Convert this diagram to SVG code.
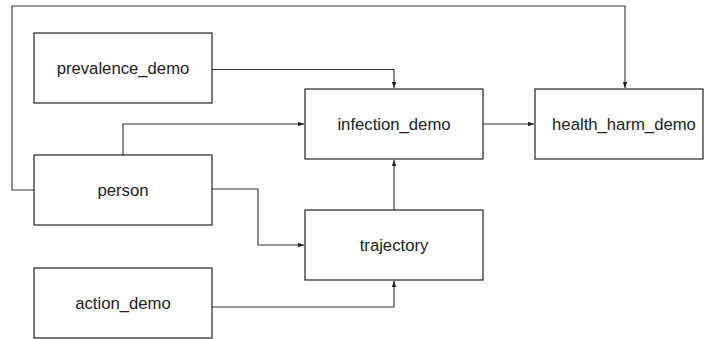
<svg xmlns="http://www.w3.org/2000/svg" width="704" height="339" viewBox="0 0 704 339">
<style>
.box{fill:#fff;stroke:#222;stroke-width:1.2}
.lbl{font-family:"Liberation Sans",Arial,sans-serif;font-size:16.7px;fill:#222;text-anchor:middle}
.edge{fill:none;stroke:#333;stroke-width:1.1}
</style>
<defs>
<marker id="arr" viewBox="0 0 6 6" refX="6" refY="3" markerWidth="6" markerHeight="6" markerUnits="userSpaceOnUse" orient="auto">
<path d="M0,0.8 L6,3 L0,5.2 Z" fill="#222"/>
</marker>
</defs>
<rect width="704" height="339" fill="#fff"/>
<g id="connectors">
<path class="edge" d="M34,190 H12 V6 H625 V88" marker-end="url(#arr)"/>
<path class="edge" d="M212,69.5 H394 V88" marker-end="url(#arr)"/>
<path class="edge" d="M123,155 V124 H304" marker-end="url(#arr)"/>
<path class="edge" d="M212,189 H258 V245 H304" marker-end="url(#arr)"/>
<path class="edge" d="M212,307 H394 V281" marker-end="url(#arr)"/>
<path class="edge" d="M394,210 V160" marker-end="url(#arr)"/>
<path class="edge" d="M483,124 H534" marker-end="url(#arr)"/>
</g>
<g id="prevalence_demo">
<rect class="box" x="34" y="33" width="178" height="70"/>
<text class="lbl" x="123" y="74">prevalence_demo</text>
</g>
<g id="infection_demo">
<rect class="box" x="305" y="89" width="178" height="70"/>
<text class="lbl" x="394" y="130">infection_demo</text>
</g>
<g id="health_harm_demo">
<rect class="box" x="535" y="89" width="168" height="70"/>
<text class="lbl" x="624" y="130">health_harm_demo</text>
</g>
<g id="person">
<rect class="box" x="34" y="155" width="178" height="70"/>
<text class="lbl" x="123" y="196">person</text>
</g>
<g id="trajectory">
<rect class="box" x="305" y="210" width="178" height="70"/>
<text class="lbl" x="394" y="251">trajectory</text>
</g>
<g id="action_demo">
<rect class="box" x="34" y="268" width="178" height="70"/>
<text class="lbl" x="123" y="309">action_demo</text>
</g>
</svg>
